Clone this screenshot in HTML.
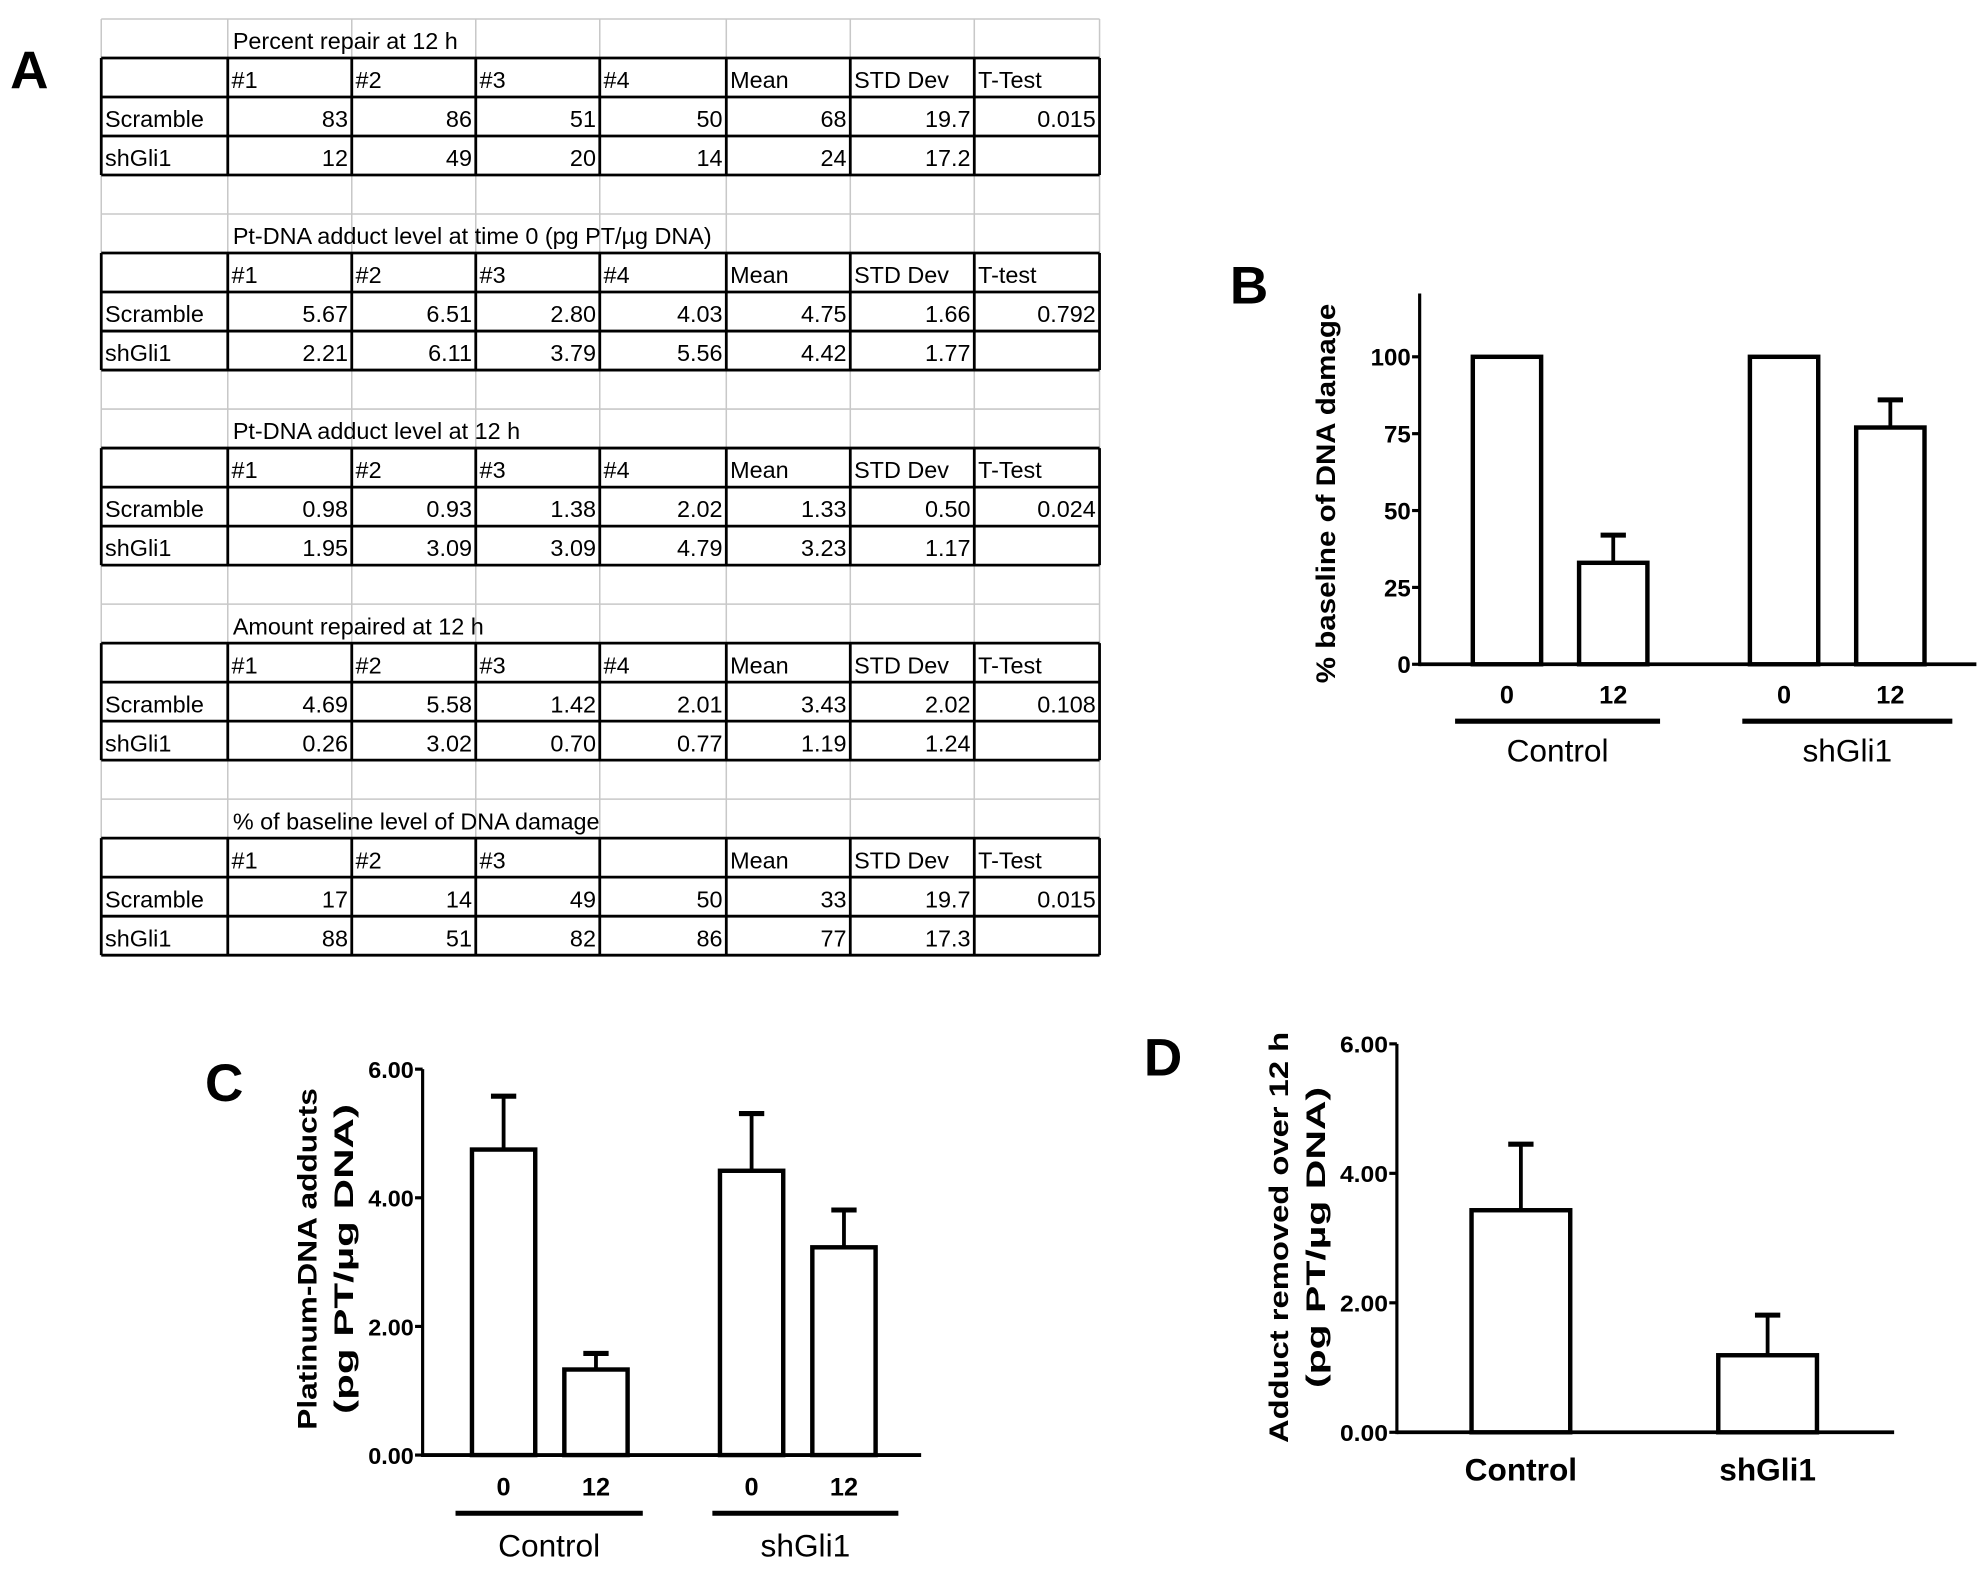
<!DOCTYPE html>
<html><head><meta charset="utf-8"><style>
html,body{margin:0;padding:0;background:#fff;}
svg{display:block;}
text{font-family:"Liberation Sans",sans-serif;}
.tb{font-size:18.5px;}
.cap{font-weight:bold;font-size:42px;}
</style></head><body>
<svg id="fig" width="1984" height="1574" viewBox="0 0 1568 1244" xmlns="http://www.w3.org/2000/svg">
<text class="cap" x="8" y="70">A</text>
<text class="cap" x="972" y="240">B</text>
<text class="cap" x="162" y="870">C</text>
<text class="cap" x="904" y="850">D</text>
<g id="tables"></g>
<g id="chartB"></g>
<g id="chartC"></g>
<g id="chartD"></g>
</svg>
<script>
const NS="http://www.w3.org/2000/svg";
function mk(parent,tag,attrs,txt){const e=document.createElementNS(NS,tag);for(const k in attrs)e.setAttribute(k,attrs[k]);if(txt!==undefined)e.textContent=txt;parent.appendChild(e);return e;}

// ---------- Tables ----------
const tableTitles=["Percent repair at 12 h","Pt-DNA adduct level at time 0 (pg PT/µg DNA)","Pt-DNA adduct level at 12 h","Amount repaired at 12 h","% of baseline level of DNA damage"];
const tableHeaders=[["#1","#2","#3","#4","Mean","STD Dev","T-Test"],["#1","#2","#3","#4","Mean","STD Dev","T-test"],["#1","#2","#3","#4","Mean","STD Dev","T-Test"],["#1","#2","#3","#4","Mean","STD Dev","T-Test"],["#1","#2","#3","","Mean","STD Dev","T-Test"]];
const scrambleRows=[["83","86","51","50","68","19.7","0.015"],["5.67","6.51","2.80","4.03","4.75","1.66","0.792"],["0.98","0.93","1.38","2.02","1.33","0.50","0.024"],["4.69","5.58","1.42","2.01","3.43","2.02","0.108"],["17","14","49","50","33","19.7","0.015"]];
const shRows=[["12","49","20","14","24","17.2",""],["2.21","6.11","3.79","5.56","4.42","1.77",""],["1.95","3.09","3.09","4.79","3.23","1.17",""],["0.26","3.02","0.70","0.77","1.19","1.24",""],["88","51","82","86","77","17.3",""]];
(function(){
 const g=document.getElementById('tables');
 const cols=[80,180,278,376,474,574,672,770,869];
 const top=15,rh=30.83;
 for(let r=0;r<=24;r++){mk(g,'line',{x1:80,x2:869,y1:top+r*rh,y2:top+r*rh,stroke:'#c8c8c8','stroke-width':1.2});}
 cols.forEach(x=>mk(g,'line',{x1:x,x2:x,y1:top,y2:top+24*rh,stroke:'#c8c8c8','stroke-width':1.2}));
 for(let b=0;b<5;b++){
  const by=top+b*5*rh;
  const t=mk(g,'text',{class:'tb',x:184,y:by+rh-7},tableTitles[b]);
  
  
  const hy=by+rh;
  for(let r=0;r<=3;r++)mk(g,'line',{x1:80,x2:869,y1:hy+r*rh,y2:hy+r*rh,stroke:'#000','stroke-width':2.2});
  cols.forEach(x=>mk(g,'line',{x1:x,x2:x,y1:hy,y2:hy+3*rh,stroke:'#000','stroke-width':2.2}));
  tableHeaders[b].forEach((h,i)=>mk(g,'text',{class:'tb',x:cols[i+1]+3,y:hy+rh-7},h));
  mk(g,'text',{class:'tb',x:83,y:hy+2*rh-7},'Scramble');
  mk(g,'text',{class:'tb',x:83,y:hy+3*rh-7},'shGli1');
  scrambleRows[b].forEach((v,i)=>mk(g,'text',{class:'tb',x:cols[i+2]-3,y:hy+2*rh-7,'text-anchor':'end'},v));
  shRows[b].forEach((v,i)=>mk(g,'text',{class:'tb',x:cols[i+2]-3,y:hy+3*rh-7,'text-anchor':'end'},v));
 }
})();

// ---------- Chart B ----------
const bValues=[100,33,100,77];
const bErrors=[0,42,0,86];
const bTicks=[0,25,50,75,100];
const bTickLabels=["0","25","50","75","100"];
const bCategories=["0","12","0","12"];
const bGroups=["Control","shGli1"];
// ---------- Chart C ----------
const cValues=[4.75,1.33,4.42,3.23];
const cErrors=[5.58,1.58,5.31,3.81];
const cTicks=[0,2,4,6];
const cTickLabels=["0.00","2.00","4.00","6.00"];
const cCategories=["0","12","0","12"];
const cGroups=["Control","shGli1"];
// ---------- Chart D ----------
const dValues=[3.43,1.19];
const dErrors=[4.45,1.81];
const dTicks=[0,2,4,6];
const dTickLabels=["0.00","2.00","4.00","6.00"];
const dCategories=["Control","shGli1"];

function drawChart(g,o){
 const y=v=>o.y0-(v-o.vmin)/(o.vmax-o.vmin)*(o.y0-o.y1);
 mk(g,'line',{x1:o.ax,x2:o.ax,y1:o.axTop,y2:o.y0+1.5,stroke:'#000','stroke-width':2.5});
 mk(g,'line',{x1:o.ax,x2:o.axRight,y1:o.y0,y2:o.y0,stroke:'#000','stroke-width':3});
 o.ticks.forEach((t,i)=>{
  mk(g,'line',{x1:o.ax-6,x2:o.ax,y1:y(t),y2:y(t),stroke:'#000','stroke-width':2.5});
  const attrs={x:o.ax-7,y:y(t)+7,'text-anchor':'end','font-size':o.tfs,'font-weight':'bold'};
  if(o.tickLen){attrs.textLength=o.tickLen*o.tickLabels[i].length/4;attrs.lengthAdjust='spacingAndGlyphs';}
  const tl=mk(g,'text',attrs,o.tickLabels[i]);
  
  
 });
 o.values.forEach((v,i)=>{
  const x=o.barX[i];
  if(o.errors[i]>v){
   mk(g,'line',{x1:x+o.bw/2,x2:x+o.bw/2,y1:y(v),y2:y(o.errors[i]),stroke:'#000','stroke-width':3});
   mk(g,'line',{x1:x+o.bw/2-10,x2:x+o.bw/2+10,y1:y(o.errors[i]),y2:y(o.errors[i]),stroke:'#000','stroke-width':4});
  }
  const r=mk(g,'rect',{x:x,y:y(v),width:o.bw,height:o.y0-y(v),fill:'#fff',stroke:'#000','stroke-width':3.5});
  
  
  const cl=mk(g,'text',{x:x+o.bw/2,y:o.catY,'text-anchor':'middle','font-size':o.cfs,'font-weight':'bold'},o.categories[i]);
  
  
 });
 (o.groups||[]).forEach((gname,i)=>{
  const gx=o.groupX[i];
  mk(g,'line',{x1:gx[0],x2:gx[1],y1:o.gLineY,y2:o.gLineY,stroke:'#000','stroke-width':4});
  const gl=mk(g,'text',{x:(gx[0]+gx[1])/2,y:o.gLabelY,'text-anchor':'middle','font-size':o.gfs},gname);
  
  
 });
 o.title.forEach((line,i)=>{
  const tx=o.titleX[i];
  const t=mk(g,'text',{x:tx,y:o.titleY,'text-anchor':'middle','font-size':o.titleFs,'font-weight':'bold',textLength:o.titleLen[i],lengthAdjust:'spacingAndGlyphs',transform:`rotate(-90 ${tx} ${o.titleY})`},line);
  
  
 });
}
drawChart(document.getElementById('chartB'),{ax:1122,axTop:232,axRight:1562,y0:525,y1:282,vmin:0,vmax:100,ticks:bTicks,tickLabels:bTickLabels,tfs:19,values:bValues,errors:bErrors,barX:[1164,1248,1383,1467],bw:54,categories:bCategories,catY:556,cfs:20,groups:bGroups,groupX:[[1150,1312],[1377,1543]],gLineY:570,gLabelY:602,gfs:25,title:["% baseline of DNA damage"],titleX:[1055],titleY:390,titleLen:[300],titleFs:21});
drawChart(document.getElementById('chartC'),{ax:334,axTop:845,axRight:728,y0:1150,y1:845,vmin:0,vmax:6,ticks:cTicks,tickLabels:cTickLabels,tfs:18,tickLen:36,values:cValues,errors:cErrors,barX:[373,446,569,642],bw:50,categories:cCategories,catY:1182,cfs:20,groups:cGroups,groupX:[[360,508],[563,710]],gLineY:1196,gLabelY:1230,gfs:25,title:["Platinum-DNA adducts","(pg PT/µg DNA)"],titleX:[250,279],titleY:995,titleLen:[270,245],titleFs:21});
drawChart(document.getElementById('chartD'),{ax:1104,axTop:825,axRight:1497,y0:1132,y1:825,vmin:0,vmax:6,ticks:dTicks,tickLabels:dTickLabels,tfs:18,tickLen:38,values:dValues,errors:dErrors,barX:[1163,1358],bw:78,categories:dCategories,catY:1170,cfs:25,title:["Adduct removed over 12 h","(pg PT/µg DNA)"],titleX:[1018,1047],titleY:978,titleLen:[325,238],titleFs:21});
</script>
</body></html>
